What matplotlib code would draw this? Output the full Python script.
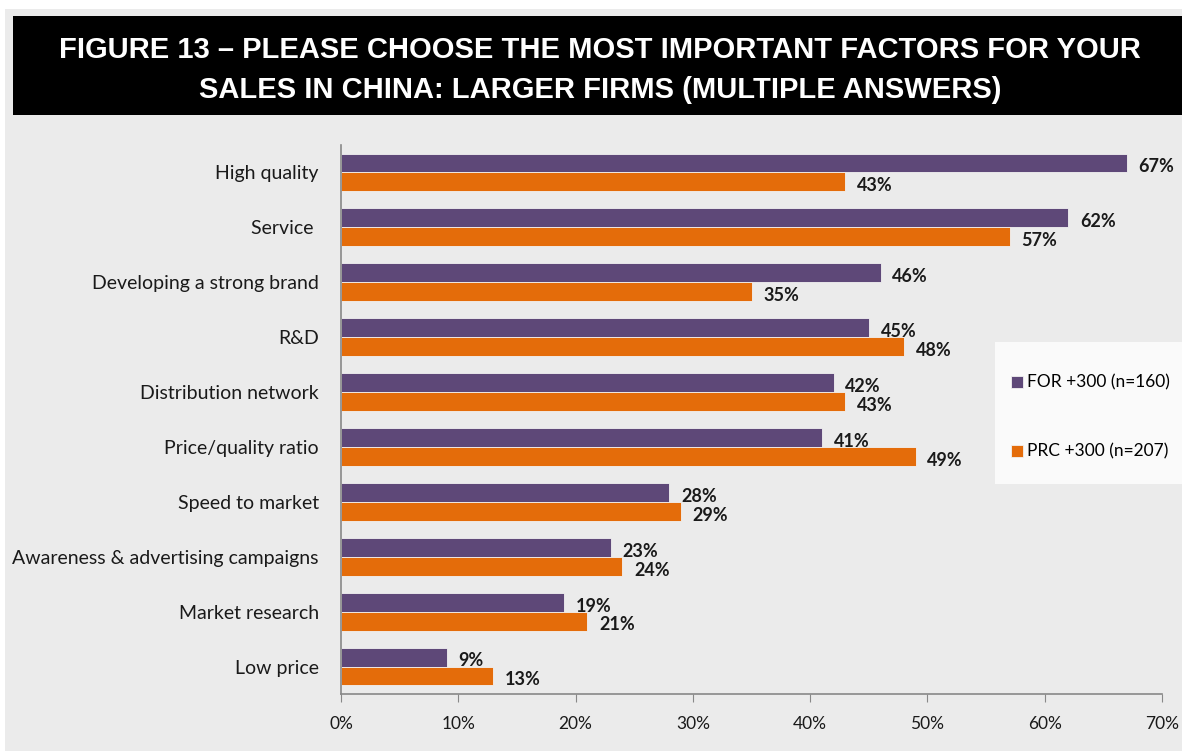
import matplotlib.pyplot as plt
import numpy as np
from matplotlib.patches import Rectangle

categories = ["High quality", "Service ", "Developing a strong brand", "R&D",
              "Distribution network", "Price/quality ratio", "Speed to market",
              "Awareness & advertising campaigns", "Market research", "Low price"]
for_vals = [67, 62, 46, 45, 42, 41, 28, 23, 19, 9]
prc_vals = [43, 57, 35, 48, 43, 49, 29, 24, 21, 13]
series_names = ["FOR +300 (n=160)", "PRC +300 (n=207)"]
xticks = [0, 10, 20, 30, 40, 50, 60, 70]

purple = "#5e4878"
orange = "#e46c0a"
bg = "#ebebeb"
lab_font = ["Lato", "DejaVu Sans"]

fig = plt.figure(figsize=(11.82, 7.51), dpi=100)
fig.patch.set_facecolor("white")

# grey panel and black title band
fig.patches.append(Rectangle((5 / 1182, 0), 1, 1 - 9 / 751, transform=fig.transFigure,
                             facecolor=bg, edgecolor="none", zorder=-3))
fig.patches.append(Rectangle((13 / 1182, 1 - 115 / 751), 1, 99 / 751, transform=fig.transFigure,
                             facecolor="black", edgecolor="none", zorder=-2))
fig.text(0.5 + 9 / 1182, 1 - 50 / 751, "FIGURE 13 – PLEASE CHOOSE THE MOST IMPORTANT FACTORS FOR YOUR",
         ha="center", va="center", color="white", fontsize=21, fontweight="bold",
         family="Liberation Sans")
fig.text(0.5 + 9 / 1182, 1 - 90 / 751, "SALES IN CHINA: LARGER FIRMS (MULTIPLE ANSWERS)",
         ha="center", va="center", color="white", fontsize=21, fontweight="bold",
         family="Liberation Sans")

# legend box
fig.patches.append(Rectangle((995 / 1182, 1 - 484 / 751), 187 / 1182, 142 / 751,
                             transform=fig.transFigure, facecolor="#fafafa",
                             edgecolor="none", zorder=-1))

ax = fig.add_axes([341 / 1182, 57 / 751, 821 / 1182, 549 / 751])
ax.patch.set_visible(False)

y = np.arange(len(categories))
h = 0.345
ax.barh(y - h / 2, for_vals, height=h, color=purple, edgecolor="#f2f2f2", linewidth=0.6,
        label=series_names[0])
ax.barh(y + h / 2, prc_vals, height=h, color=orange, edgecolor="#f2f2f2", linewidth=0.6,
        label=series_names[1])

for i in range(len(categories)):
    ax.text(for_vals[i] + 1.0, y[i] - h / 2 + 0.07, f"{for_vals[i]}%", va="center", ha="left",
            fontsize=13, fontweight="bold", color="#1a1a1a", family=lab_font)
    ax.text(prc_vals[i] + 1.0, y[i] + h / 2 + 0.07, f"{prc_vals[i]}%", va="center", ha="left",
            fontsize=13, fontweight="bold", color="#1a1a1a", family=lab_font)

ax.set_ylim(len(categories) - 0.5, -0.5)
ax.set_xlim(0, 70)
ax.set_yticks(y)
ax.set_yticklabels(categories, fontsize=14, family=lab_font, color="#1a1a1a")
ax.set_xticks(xticks)
ax.set_xticklabels([f"{t}%" for t in xticks], fontsize=12.5, family=lab_font, color="#1a1a1a")
ax.tick_params(axis="y", length=0, pad=16)
ax.tick_params(axis="x", length=6, color="#888888", pad=10)
for s in ["top", "right"]:
    ax.spines[s].set_visible(False)
for s in ["left", "bottom"]:
    ax.spines[s].set_color("#888888")
    ax.spines[s].set_linewidth(1.2)

leg = fig.legend(loc="upper left", bbox_to_anchor=(995 / 1182, 1 - 359 / 751),
                 frameon=False, prop={"family": lab_font, "size": 12.5},
                 handlelength=0.7, handleheight=0.7, handletextpad=0.25, labelspacing=3.05)

fig.savefig("out.png", dpi=100, facecolor="white")
